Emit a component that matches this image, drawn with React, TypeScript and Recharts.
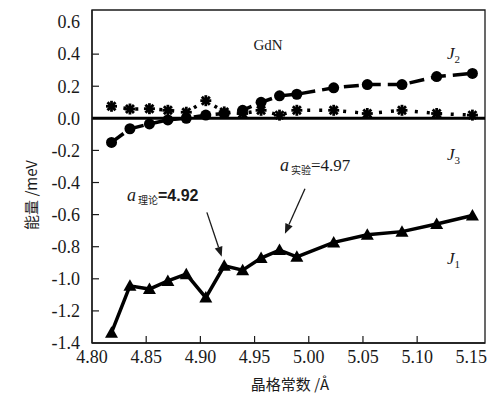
import * as React from "react"
import {
    LineChart,
    Line,
    XAxis,
    YAxis,
    ReferenceLine,
    ReferenceArea,
    Customized,
} from "recharts"

// lattice constant (Å)
const lattice = [4.818, 4.835, 4.853, 4.870, 4.887, 4.905, 4.922, 4.939, 4.956, 4.973, 4.989, 5.023, 5.054, 5.086, 5.118, 5.151]
// exchange energies (meV)
const j1 = [-1.336, -1.044, -1.064, -1.013, -0.971, -1.117, -0.919, -0.946, -0.871, -0.821, -0.863, -0.773, -0.725, -0.706, -0.658, -0.606]
const j2 = [-0.15, -0.065, -0.035, -0.01, 0.0, 0.02, 0.03, 0.05, 0.10, 0.14, 0.15, 0.19, 0.21, 0.21, 0.26, 0.28]
const j3 = [0.075, 0.058, 0.06, 0.05, 0.038, 0.11, 0.04, 0.03, 0.05, 0.02, 0.05, 0.05, 0.03, 0.05, 0.03, 0.02]

const xTicks = [4.80, 4.85, 4.90, 4.95, 5.00, 5.05, 5.10, 5.15]
const yTicks = [-1.4, -1.2, -1.0, -0.8, -0.6, -0.4, -0.2, 0.0, 0.2, 0.4, 0.6]

const X_MAX = 5.1626
const Y_MAX = 0.675

const data = lattice.map((a, i) => ({ a, j1: j1[i], j2: j2[i], j3: j3[i] }))

const serif = "'Liberation Serif', 'DejaVu Serif', serif"
const cjk = "'Noto Sans CJK SC', sans-serif"
const ink = "#1a1a1a"

const Y_MARGIN = 12
const X_MARGIN = 6

const YTick = (props: any) => {
    const { x, y, payload } = props
    const v = payload.value as number
    const ax = x + Y_MARGIN
    const inner = v > -1.39 && v < 0.55 && Math.abs(v) > 0.01
    return (
        <g>
            <text x={x} y={y} dy="0.35em" textAnchor="end" style={{ fontFamily: serif, fontSize: 18 }} fill={ink}>
                {v.toFixed(1)}
            </text>
            {inner && <line x1={ax} x2={ax + 7} y1={y} y2={y} stroke={ink} strokeWidth={1.2} />}
        </g>
    )
}

const XTick = (props: any) => {
    const { x, y, payload } = props
    const v = payload.value as number
    const ay = y - X_MARGIN
    const inner = v > 4.81 && v < 5.14
    return (
        <g>
            <text x={x} y={y} dy="0.8em" textAnchor="middle" style={{ fontFamily: serif, fontSize: 18 }} fill={ink}>
                {v.toFixed(2)}
            </text>
            {inner && <line x1={x} x2={x} y1={ay} y2={ay - 7} stroke={ink} strokeWidth={1.2} />}
        </g>
    )
}

const Circle = (props: any) => {
    const { cx, cy } = props
    return <circle cx={cx} cy={cy} r={5.5} fill="#000" />
}

const Triangle = (props: any) => {
    const { cx, cy } = props
    return <polygon points={`${cx},${cy - 6.5} ${cx - 6.5},${cy + 5} ${cx + 6.5},${cy + 5}`} fill="#000" />
}

const Star = (props: any) => {
    const { cx, cy } = props
    const r = 5.5
    const d = 4
    return (
        <g stroke="#000" strokeWidth={2.8}>
            <line x1={cx - r} x2={cx + r} y1={cy} y2={cy} />
            <line x1={cx} x2={cx} y1={cy - r} y2={cy + r} />
            <line x1={cx - d} x2={cx + d} y1={cy - d} y2={cy + d} />
            <line x1={cx - d} x2={cx + d} y1={cy + d} y2={cy - d} />
        </g>
    )
}

const Arrow = (props: any) => {
    const { x1, y1, x2, y2 } = props
    const ang = Math.atan2(y2 - y1, x2 - x1)
    const len = 10
    const w = 4
    const bx = x2 - len * Math.cos(ang)
    const by = y2 - len * Math.sin(ang)
    const px = -Math.sin(ang) * w
    const py = Math.cos(ang) * w
    return (
        <g>
            <line x1={x1} y1={y1} x2={bx} y2={by} stroke={ink} strokeWidth={1.3} />
            <polygon points={`${x2},${y2} ${bx + px},${by + py} ${bx - px},${by - py}`} fill={ink} />
        </g>
    )
}

const Labels = () => (
    <g fill={ink}>
        <text x={260} y={42} textAnchor="middle" style={{ fontFamily: serif, fontSize: 15 }}>GdN</text>
        <text x={439} y={51} style={{ fontFamily: serif, fontSize: 17, fontStyle: "italic" }}>
            J<tspan fontSize={11} dy={4} fontStyle="normal">2</tspan>
        </text>
        <text x={439} y={152} style={{ fontFamily: serif, fontSize: 17, fontStyle: "italic" }}>
            J<tspan fontSize={11} dy={4} fontStyle="normal">3</tspan>
        </text>
        <text x={439} y={256} style={{ fontFamily: serif, fontSize: 17, fontStyle: "italic" }}>
            J<tspan fontSize={11} dy={4} fontStyle="normal">1</tspan>
        </text>
        <text x={119} y={193} style={{ fontFamily: serif, fontSize: 18, fontStyle: "italic" }}>
            a<tspan style={{ fontFamily: cjk, fontSize: 10, fontStyle: "normal" }} dx={2} dy={3}>理论</tspan>
            <tspan style={{ fontFamily: "'Liberation Sans', sans-serif", fontSize: 16, fontWeight: "bold", fontStyle: "normal" }} dy={-3}>=4.92</tspan>
        </text>
        <text x={272} y={163} style={{ fontFamily: serif, fontSize: 18, fontStyle: "italic" }}>
            a<tspan style={{ fontFamily: cjk, fontSize: 10, fontStyle: "normal" }} dx={2} dy={3}>实验</tspan>
            <tspan style={{ fontSize: 17, fontStyle: "normal" }} dy={-3}>=4.97</tspan>
        </text>
        <text
            x={22}
            y={187}
            transform="rotate(-90 22 187)"
            textAnchor="middle"
            dominantBaseline="central"
            style={{ fontFamily: cjk, fontSize: 15 }}
        >
            能量 /meV
        </text>
        <text x={282} y={382} textAnchor="middle" style={{ fontFamily: cjk, fontSize: 15 }}>
            晶格常数 /Å
        </text>
    </g>
)

export default function App() {
    return (
        <LineChart
            width={495}
            height={391}
            data={data}
            margin={{ top: 2, right: 18, bottom: 0, left: 0 }}
        >
            <XAxis
                type="number"
                dataKey="a"
                domain={[4.8, X_MAX]}
                ticks={xTicks}
                allowDataOverflow
                height={56}
                tickSize={0}
                tickMargin={X_MARGIN}
                tick={<XTick />}
                axisLine={{ stroke: ink, strokeWidth: 1.3 }}
                interval={0}
            />
            <YAxis
                type="number"
                domain={[-1.4, Y_MAX]}
                ticks={yTicks}
                allowDataOverflow
                width={84}
                tickSize={0}
                tickMargin={Y_MARGIN}
                tick={<YTick />}
                axisLine={{ stroke: ink, strokeWidth: 1.3 }}
                interval={0}
            />
            <ReferenceArea x1={4.8} x2={X_MAX} y1={-1.4} y2={Y_MAX} fill="none" stroke={ink} strokeWidth={1.3} />
            <ReferenceLine y={0} stroke="#000" strokeWidth={3} />
            <Line
                dataKey="j3"
                stroke="#000"
                strokeWidth={3.5}
                strokeDasharray="3 9"
                dot={<Star />}
                isAnimationActive={false}
            />
            <Line
                dataKey="j2"
                stroke="#000"
                strokeWidth={3.5}
                strokeDasharray="15 7"
                dot={<Circle />}
                isAnimationActive={false}
            />
            <Line
                dataKey="j1"
                stroke="#000"
                strokeWidth={3.5}
                dot={<Triangle />}
                isAnimationActive={false}
            />
            <ReferenceLine
                segment={[{ x: 4.906, y: -0.586 }, { x: 4.9197, y: -0.8625 }]}
                shape={<Arrow />}
            />
            <ReferenceLine
                segment={[{ x: 4.9965, y: -0.439 }, { x: 4.978, y: -0.719 }]}
                shape={<Arrow />}
            />
            <Customized component={Labels} />
        </LineChart>
    )
}
